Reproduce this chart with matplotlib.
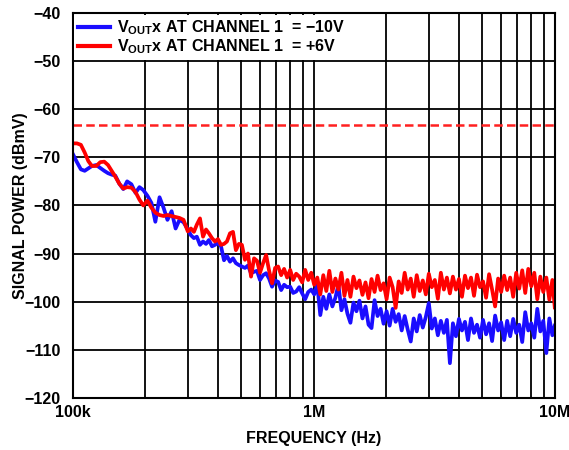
import matplotlib
matplotlib.use("Agg")
import matplotlib.pyplot as plt
from matplotlib.ticker import FixedLocator, NullFormatter

plt.rcParams['font.family'] = ['Liberation Sans', 'DejaVu Sans']
plt.rcParams['font.weight'] = 'bold'
plt.rcParams['mathtext.fontset'] = 'custom'
plt.rcParams['mathtext.rm'] = 'Liberation Sans:bold'

# frequency points (kHz), shared by both traces
freq_khz = [
    100, 104, 108, 112, 116, 120, 125, 130, 135, 140,
    145, 150, 156, 162, 168, 175, 182, 189, 196, 204,
    212, 220, 229, 238, 247, 257, 267, 277, 288, 300,
    309, 318, 327, 337, 347, 357, 367, 378, 389, 400,
    412, 424, 436, 449, 462, 475, 489, 503, 518, 533,
    549, 565, 581, 598, 616, 634, 652, 671, 691, 711,
    732, 753, 775, 798, 821, 845, 870, 895, 921, 948,
    976, 1004,
    1034, 1064, 1095, 1127, 1160, 1194, 1229, 1265, 1302, 1340,
    1379, 1419, 1461, 1503, 1547, 1592, 1639, 1687, 1736, 1787,
    1839, 1893, 1948, 2005, 2064, 2124, 2186, 2250, 2316, 2383,
    2453, 2525, 2598, 2674, 2752, 2833, 2916, 3001, 3088, 3179,
    3272, 3367, 3466, 3567, 3671, 3778, 3889, 4002, 4119, 4240,
    4363, 4491, 4622, 4757, 4896, 5039, 5187, 5338, 5494, 5655,
    5820, 5990, 6165, 6345, 6530, 6721, 6917, 7119, 7327, 7541,
    7762, 7988, 8222, 8462, 8709, 8963, 9225, 9494, 9772, 10000,
]

# VOUTx at channel 1 = -10V (dBmV)
blue_db = [
    -69.3, -71.0, -72.5, -72.8, -72.3, -71.8, -71.6, -72.2, -72.8, -73.3,
    -73.6, -73.8, -75.5, -76.6, -75.0, -75.6, -77.4, -76.2, -76.8, -78.0,
    -79.5, -83.4, -78.3, -80.5, -83.0, -81.2, -84.8, -83.0, -83.5, -85.0,
    -86.2, -86.8, -86.5, -88.2, -87.5, -88.0, -87.2, -88.5, -88.2, -87.8,
    -88.5, -91.4, -90.5, -91.7, -91.0, -92.0, -92.4, -92.7, -93.0, -92.5,
    -94.1, -93.8, -93.6, -95.5, -94.5, -94.1, -95.2, -96.9, -95.6, -95.9,
    -97.6, -96.5, -97.0, -96.9, -98.2, -97.9, -97.0, -98.3, -99.5, -98.0,
    -97.5, -98.5,
    -96.5, -102.8, -99.0, -101.5, -98.5, -101.0, -99.2, -96.5, -101.8, -99.5,
    -102.5, -104.4, -100.2, -102.0, -99.8, -103.5, -101.0, -104.8, -105.5, -99.7,
    -103.0, -101.5, -104.6, -102.0, -105.0, -101.5, -104.2, -102.6, -106.0, -103.0,
    -105.8, -108.3, -103.5, -106.2, -102.8, -105.4, -103.2, -100.3, -105.6, -103.5,
    -107.0, -104.0, -106.5, -103.8, -112.8, -104.5, -107.2, -103.6, -106.0, -104.2,
    -108.0, -103.5, -106.5, -104.8, -107.5, -103.8, -106.8, -104.5, -108.2, -102.9,
    -106.0, -104.3, -108.0, -104.0, -107.2, -103.6, -106.5, -104.8, -108.4, -102.2,
    -106.0, -104.5, -107.5, -101.5, -106.2, -104.0, -110.7, -103.5, -107.0, -105.0,
]

# VOUTx at channel 1 = +6V (dBmV)
red_db = [
    -67.1, -67.1, -67.4, -69.0, -70.8, -71.8, -71.8, -71.0, -70.9, -71.6,
    -72.8, -74.0, -75.5, -76.5, -76.2, -76.3, -77.2, -78.8, -80.0, -79.0,
    -80.5, -81.5, -82.0, -82.2, -82.0, -82.2, -82.4, -82.6, -83.0, -85.4,
    -84.8, -85.5, -84.0, -82.7, -86.5, -85.0, -85.8, -86.8, -87.5, -87.0,
    -88.2, -88.0, -87.5, -85.8, -85.5, -89.3, -88.0, -88.2, -91.3, -90.0,
    -94.8, -91.0, -91.5, -94.0, -92.0, -90.3, -93.5, -96.2, -93.0, -92.7,
    -94.5, -93.2, -95.0, -93.4, -95.5, -94.2, -94.8, -96.0, -93.4, -95.5,
    -94.0, -96.5,
    -95.0, -98.5, -94.5, -97.8, -93.6, -98.0, -95.2, -97.5, -94.0, -98.8,
    -95.5, -99.0, -94.8, -97.2, -95.6, -98.6, -96.0, -99.3, -95.3, -98.0,
    -94.6, -97.6, -96.2, -99.5, -95.0, -97.0, -101.3, -95.8, -98.2, -94.0,
    -97.5, -95.2, -99.0, -94.5, -97.8, -95.6, -98.5, -94.2, -97.0, -95.5,
    -99.4, -94.0, -97.5, -95.0, -98.3, -94.8, -97.5, -95.3, -99.0, -94.6,
    -97.2, -95.0, -98.8, -94.4, -97.0, -95.8, -99.2, -94.3, -97.5, -101.0,
    -95.2, -98.0, -94.6, -97.6, -95.0, -99.0, -94.0, -97.3, -93.5, -98.2,
    -93.2, -96.8, -94.0, -99.5, -94.8, -98.0, -95.0, -99.6, -95.5, -101.2,
]

limit_db = -63.3  # dashed red reference level

freq_hz = [f * 1e3 for f in freq_khz]

fig = plt.figure(figsize=(5.69, 4.5), dpi=100)
ax = fig.add_axes([0.128, 0.116, 0.847, 0.855])

ax.plot(freq_hz, blue_db, color='#1a0dff', lw=2.7,
        label='V$_{\\rm OUT}$x AT CHANNEL 1  = \u221210V')
ax.plot(freq_hz, red_db, color='#ff0000', lw=2.7,
        label='V$_{\\rm OUT}$x AT CHANNEL 1  = +6V')
ax.axhline(limit_db, color='#ff2020', lw=1.8, linestyle=(0, (3.4, 1.7)))

ax.set_xscale('log')
ax.set_xlim(1e5, 1e7)
ax.set_ylim(-120, -40)

ax.set_xticks([1e5, 1e6, 1e7])
ax.set_xticklabels(['100k', '1M', '10M'])
ax.xaxis.set_minor_locator(FixedLocator([m * 10 ** d for d in (5, 6) for m in range(2, 10)]))
ax.xaxis.set_minor_formatter(NullFormatter())
ax.set_yticks(range(-120, -39, 10))

ax.grid(True, which='both', axis='x', color='black', lw=1.3)
ax.grid(True, which='major', axis='y', color='black', lw=1.3)
ax.set_axisbelow(True)

ax.tick_params(which='both', length=0, labelsize=11.5)
ax.tick_params(axis='x', pad=5)
ax.tick_params(axis='y', pad=9)
for s in ax.spines.values():
    s.set_linewidth(1.5)

ax.set_xlabel('FREQUENCY (Hz)', fontsize=11.5, fontweight='bold', labelpad=8)
ax.set_ylabel('SIGNAL POWER (dBmV)', fontsize=11.5, fontweight='bold')
ax.yaxis.set_label_coords(-0.093, 0.5)

leg = ax.legend(loc='upper left', fontsize=11.5, frameon=True, fancybox=False,
                borderaxespad=0.1, borderpad=0.25, handlelength=2.0,
                handletextpad=0.4, labelspacing=0.0)
leg.get_frame().set_facecolor('white')
leg.get_frame().set_edgecolor('none')
leg.get_frame().set_alpha(1)
for line in leg.get_lines():
    line.set_linewidth(3.0)

fig.savefig('out.png', dpi=100)
